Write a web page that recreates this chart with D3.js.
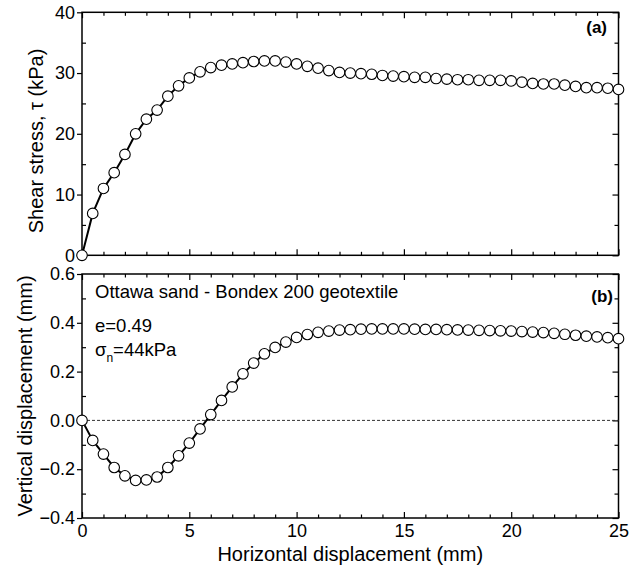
<!DOCTYPE html>
<html lang="en">
<head>
<meta charset="UTF-8">
<title>Shear stress and vertical displacement</title>
<style>
  body { margin: 0; background: #fff; }
  text { font-family: "Liberation Sans", Arial, sans-serif; fill: #000; }
  .tick text { font-size: 18px; }
  .tick line { stroke: #000; stroke-width: 1.2px; }
  .frame { fill: none; stroke: #000; stroke-width: 1.5px; }
  .curve { fill: none; stroke: #000; stroke-width: 2px; }
  .pt { fill: #fff; stroke: #000; stroke-width: 1.1px; }
</style>
</head>
<body>
<script src="https://d3js.org/d3.v7.min.js"></script>
<script>
// horizontal displacement (mm)
var dispX = [0, 0.5, 1, 1.5, 2, 2.5, 3, 3.5, 4, 4.5, 5, 5.5, 6, 6.5, 7, 7.5, 8, 8.5, 9, 9.5,
  10, 10.5, 11, 11.5, 12, 12.5, 13, 13.5, 14, 14.5, 15, 15.5, 16, 16.5, 17, 17.5, 18, 18.5, 19, 19.5,
  20, 20.5, 21, 21.5, 22, 22.5, 23, 23.5, 24, 24.5, 25];

// (a) shear stress (kPa)
var shearStress = [0, 6.9, 11.0, 13.6, 16.6, 20.0, 22.4, 23.9, 26.2, 27.9, 29.2, 30.2, 30.9, 31.3, 31.5, 31.7, 31.9, 32.0, 32.0, 31.8,
  31.5, 31.1, 30.8, 30.4, 30.1, 30.0, 29.9, 29.8, 29.6, 29.5, 29.4, 29.3, 29.3, 29.1, 29.0, 28.9, 28.9, 28.8, 28.8, 28.8,
  28.7, 28.5, 28.3, 28.2, 28.2, 28.0, 27.8, 27.6, 27.6, 27.5, 27.3];

// (b) vertical displacement (mm)
var vertDisp = [0, -0.082, -0.138, -0.193, -0.227, -0.246, -0.244, -0.232, -0.193, -0.145, -0.093, -0.035, 0.024, 0.082, 0.137, 0.191, 0.235, 0.273, 0.299, 0.321,
  0.340, 0.352, 0.361, 0.366, 0.370, 0.372, 0.374, 0.375, 0.375, 0.375, 0.375, 0.374, 0.373, 0.373, 0.372, 0.371, 0.370, 0.369, 0.368, 0.367,
  0.366, 0.364, 0.362, 0.360, 0.357, 0.353, 0.349, 0.345, 0.342, 0.339, 0.335];

var xTicks = [0, 5, 10, 15, 20, 25];
var xMinor = [1, 2, 3, 4, 6, 7, 8, 9, 11, 12, 13, 14, 16, 17, 18, 19, 21, 22, 23, 24];
var shearTicks = [0, 10, 20, 30, 40];
var shearMinor = [5, 15, 25, 35];
var vertTicks = [-0.4, -0.2, 0.0, 0.2, 0.4, 0.6];
var vertMinor = [-0.3, -0.1, 0.1, 0.3, 0.5];

var width = 637, height = 577;
var left = 82, right = 618.5;

var svg = d3.select("body").append("svg")
  .attr("width", width)
  .attr("height", height);

var x = d3.scaleLinear().domain([0, 25]).range([left, right]);
var yA = d3.scaleLinear().domain([0, 40]).range([255.3, 12.3]);
var yB = d3.scaleLinear().domain([-0.4, 0.6]).range([518, 274]);

function panel(y, ticks, minor, fmt, showX) {
  var g = svg.append("g");
  var y0 = y.range()[0], y1 = y.range()[1];

  // bottom ticks
  g.append("g").attr("transform", "translate(0," + y0 + ")")
    .call(d3.axisBottom(x).tickValues(xTicks).tickSizeInner(-6).tickSizeOuter(0).tickPadding(6)
      .tickFormat(showX ? d3.format("d") : ""));
  g.append("g").attr("transform", "translate(0," + y0 + ")")
    .call(d3.axisBottom(x).tickValues(xMinor).tickSizeInner(-3.5).tickSizeOuter(0).tickFormat(""));
  // top ticks
  g.append("g").attr("transform", "translate(0," + y1 + ")")
    .call(d3.axisTop(x).tickValues(xTicks).tickSizeInner(-6).tickSizeOuter(0).tickFormat(""));
  g.append("g").attr("transform", "translate(0," + y1 + ")")
    .call(d3.axisTop(x).tickValues(xMinor).tickSizeInner(-3.5).tickSizeOuter(0).tickFormat(""));
  // left ticks
  g.append("g").attr("transform", "translate(" + left + ",0)")
    .call(d3.axisLeft(y).tickValues(ticks).tickSizeInner(5).tickSizeOuter(0).tickPadding(2).tickFormat(fmt));
  g.append("g").attr("transform", "translate(" + left + ",0)")
    .call(d3.axisLeft(y).tickValues(minor).tickSizeInner(-4).tickSizeOuter(0).tickFormat(""));
  // right ticks
  g.append("g").attr("transform", "translate(" + right + ",0)")
    .call(d3.axisRight(y).tickValues(ticks).tickSizeInner(-6).tickSizeOuter(0).tickFormat(""));
  g.append("g").attr("transform", "translate(" + right + ",0)")
    .call(d3.axisRight(y).tickValues(minor).tickSizeInner(-4).tickSizeOuter(0).tickFormat(""));

  g.selectAll(".domain").remove();

  g.append("rect").attr("class", "frame")
    .attr("x", left).attr("y", y1)
    .attr("width", right - left).attr("height", y0 - y1);

  return g;
}

var gA = panel(yA, shearTicks, shearMinor, d3.format("d"), false);
var gB = panel(yB, vertTicks, vertMinor, d3.format(".1f"), true);

// zero line in (b)
gB.append("line")
  .attr("x1", x(0)).attr("x2", x(25))
  .attr("y1", yB(0)).attr("y2", yB(0))
  .attr("stroke", "#333").attr("stroke-width", 1).attr("stroke-dasharray", "3,2");

function series(g, y, vals) {
  var pts = dispX.map(function(d, i) { return [d, vals[i]]; });
  g.append("path").attr("class", "curve")
    .attr("d", d3.line().x(function(d) { return x(d[0]); }).y(function(d) { return y(d[1]); })(pts));
  g.selectAll(".pt").data(pts).enter().append("circle")
    .attr("class", "pt")
    .attr("cx", function(d) { return x(d[0]); })
    .attr("cy", function(d) { return y(d[1]); })
    .attr("r", 5.3);
}

series(gA, yA, shearStress);
series(gB, yB, vertDisp);

// panel tags
svg.append("text").attr("x", 607).attr("y", 33).attr("text-anchor", "end")
  .style("font-size", "17px").style("font-weight", "bold").text("(a)");
svg.append("text").attr("x", 613).attr("y", 302).attr("text-anchor", "end")
  .style("font-size", "17px").style("font-weight", "bold").text("(b)");

// annotations
svg.append("text").attr("x", 95).attr("y", 298).style("font-size", "18.5px")
  .text("Ottawa sand - Bondex 200 geotextile");
svg.append("text").attr("x", 95).attr("y", 332).style("font-size", "18.5px")
  .text("e=0.49");
var sig = svg.append("text").attr("x", 95).attr("y", 356).style("font-size", "18.5px");
sig.append("tspan").text("σ");
sig.append("tspan").attr("dy", 6).style("font-size", "12px").text("n");
sig.append("tspan").attr("dy", -6).text("=44kPa");

// axis titles
svg.append("text")
  .attr("transform", "translate(36,141) rotate(-90)")
  .attr("text-anchor", "middle").attr("dominant-baseline", "central")
  .style("font-size", "20px").text("Shear stress, τ (kPa)");
svg.append("text")
  .attr("transform", "translate(25,396) rotate(-90)")
  .attr("text-anchor", "middle").attr("dominant-baseline", "central")
  .style("font-size", "20px").text("Vertical displacement (mm)");
svg.append("text")
  .attr("x", (left + right) / 2).attr("y", 561)
  .attr("text-anchor", "middle")
  .style("font-size", "20px").text("Horizontal displacement (mm)");
</script>
</body>
</html>
